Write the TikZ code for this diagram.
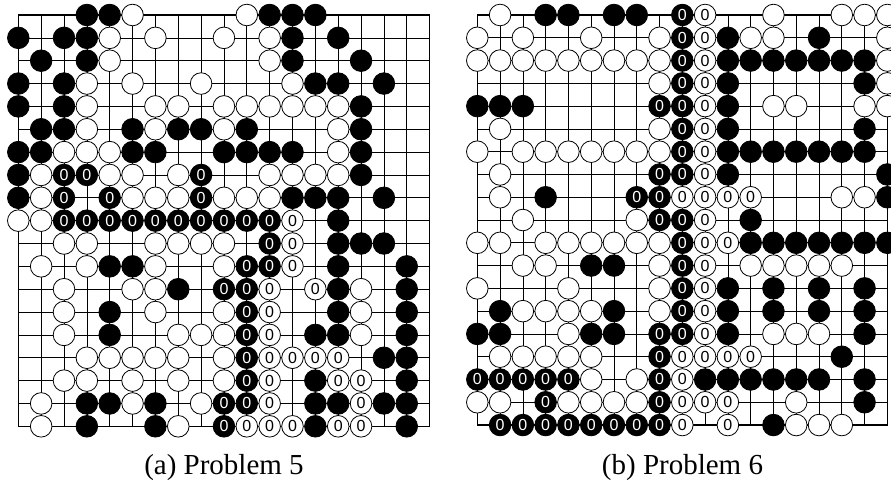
\documentclass[tikz,border=0pt]{standalone}
\usepackage{fontspec}
\setmainfont{Liberation Serif}
\newfontfamily\digitfont{Liberation Sans}
\usetikzlibrary{positioning}

\begin{document}
\begin{tikzpicture}[
    x=1pt, y=-1pt,
    gridline/.style={line width=0.7pt},
    edgeline/.style={line width=1.1pt},
    stone/.style={
        circle,
        draw,
        line width=0.8pt,
        minimum size=21.6pt,
        inner sep=0pt,
        font=\digitfont\fontsize{16}{16}\selectfont
    },
    bstone/.style={stone, fill=black, text=white},
    wstone/.style={stone, fill=white},
    caption/.style={anchor=base, font=\fontsize{29}{29}\selectfont}
]
\useasboundingbox (0,0) rectangle (891,485);

% board (a)
\begin{scope}[shift={(-4.55,-7.85)}, x=22.85pt, y=-22.85pt]
  \foreach \i in {1,...,19} {
    \draw[gridline] (\i,1) -- (\i,19);
    \draw[gridline] (1,\i) -- (19,\i);
  }
  \draw[edgeline] (1,1) rectangle (19,19);
  % black
  \foreach \r/\cols in {1/{4,5,12,13,14}, 2/{1,3,4,13,15}, 3/{2,4,13,16},
      4/{1,3,14,15,17}, 5/{1,3,16}, 6/{2,3,6,8,9,11,16},
      7/{1,2,6,7,10,11,12,13,16}, 8/{1,16}, 9/{1,13,14,15,17}, 10/{15},
      11/{15,16,17}, 12/{5,6,15,18}, 13/{8,15,18}, 14/{5,15,18},
      15/{5,14,15,18}, 16/{17,18}, 17/{14,18}, 18/{4,5,7,14,15,17,18},
      19/{4,7,14,18}}
    \foreach \c in \cols \node[bstone] (a-\c-\r) at (\c,\r) {};
  \foreach \r/\cols in {8/{3,4,9}, 9/{3,5,9}, 10/{3,4,5,6,7,8,9,10,11,12},
      11/{12}, 12/{11,12}, 13/{10,11}, 14/{11}, 15/{11}, 16/{11}, 17/{11},
      18/{10,11}, 19/{10}}
    \foreach \c in \cols \node[bstone] (a-\c-\r) at (\c,\r) {0};
  % white
  \foreach \r/\cols in {1/{6,11}, 2/{5,7,10,12}, 3/{5,12}, 4/{4,6,9,13},
      5/{4,7,8,10,11,12,13,14,15}, 6/{4,7,10,15}, 7/{3,4,5,15},
      8/{2,5,6,8,12,13,14,15}, 9/{2,6,7,8,10,11,12}, 10/{1,2},
      11/{3,4,7,8,9,10}, 12/{2,4,7,10}, 13/{3,6,7,16}, 14/{3,7,10,16},
      15/{3,8,9,10,16}, 16/{4,5,6,7,8,10}, 17/{3,4,6,8,10}, 18/{2,6,9},
      19/{2,8}}
    \foreach \c in \cols \node[wstone] (a-\c-\r) at (\c,\r) {};
  \foreach \r/\cols in {10/{13}, 11/{13}, 12/{13}, 13/{12,14}, 14/{12},
      15/{12}, 16/{12,13,14,15}, 17/{12,15,16}, 18/{12,16},
      19/{11,12,13,15,16}}
    \foreach \c in \cols \node[wstone] (a-\c-\r) at (\c,\r) {0};
\end{scope}

% board (b)
\begin{scope}[shift={(454.52,-7.78)}, x=22.78pt, y=-22.78pt]
  \foreach \i in {1,...,19} {
    \draw[gridline] (\i,1) -- (\i,19);
    \draw[gridline] (1,\i) -- (19,\i);
  }
  \draw[edgeline] (1,1) rectangle (19,19);
  % black
  \foreach \r/\cols in {1/{4,5,7,8}, 2/{12,16}, 3/{12,13,14,15,16,17,18},
      4/{12,18}, 5/{1,2,3,12}, 6/{12,18}, 7/{12,13,14,15,16,17,18},
      8/{12,19}, 9/{4,19}, 10/{13}, 11/{13,14,15,16,17,18,19}, 12/{6,7},
      13/{12,14,16,18}, 14/{2,7,12,14,16,18}, 15/{1,2,6,7,12,18}, 16/{17},
      17/{11,12,13,14,15,16,18}, 18/{18}, 19/{14}}
    \foreach \c in \cols \node[bstone] (b-\c-\r) at (\c,\r) {};
  \foreach \r/\cols in {1/{10}, 2/{10}, 3/{10}, 4/{10}, 5/{9,10}, 6/{10},
      7/{10}, 8/{9,10}, 9/{8,9}, 10/{9,10}, 11/{10}, 12/{10}, 13/{10},
      14/{10}, 15/{9,10}, 16/{9}, 17/{1,2,3,4,5,9}, 18/{4,9},
      19/{2,3,4,5,6,7,8,9}}
    \foreach \c in \cols \node[bstone] (b-\c-\r) at (\c,\r) {0};
  % white
  \foreach \r/\cols in {1/{2,14,17,18,19}, 2/{1,3,6,9,13,14,19},
      3/{1,2,3,4,5,6,7,8,9,19}, 4/{9,19}, 5/{14,15,18,19}, 6/{2,9},
      7/{1,3,4,5,6,7,8,9}, 8/{2}, 9/{2,17,18}, 10/{3,8},
      11/{1,2,4,5,6,7,8,9}, 12/{3,4,9,13,14,15,16,17}, 13/{1,5,9},
      14/{3,4,5,6,9}, 15/{5,14,15,16}, 16/{2,3,4,5,6}, 17/{6,8},
      18/{1,2,5,6,7,8,15}, 19/{15,16,17}}
    \foreach \c in \cols \node[wstone] (b-\c-\r) at (\c,\r) {};
  \foreach \r/\cols in {1/{11}, 2/{11}, 3/{11}, 4/{11}, 5/{11}, 6/{11},
      7/{11}, 8/{11}, 9/{10,11,12,13}, 10/{11}, 11/{11,12}, 12/{11},
      13/{11}, 14/{11}, 15/{11}, 16/{10,11,12,13}, 17/{10}, 18/{10,11,12},
      19/{10,12}}
    \foreach \c in \cols \node[wstone] (b-\c-\r) at (\c,\r) {0};
\end{scope}

\node[caption] (capa) at (224,474.5) {(a) Problem 5};
\node[caption] (capb) at (682.5,474.5) {(b) Problem 6};
\end{tikzpicture}
\end{document}
